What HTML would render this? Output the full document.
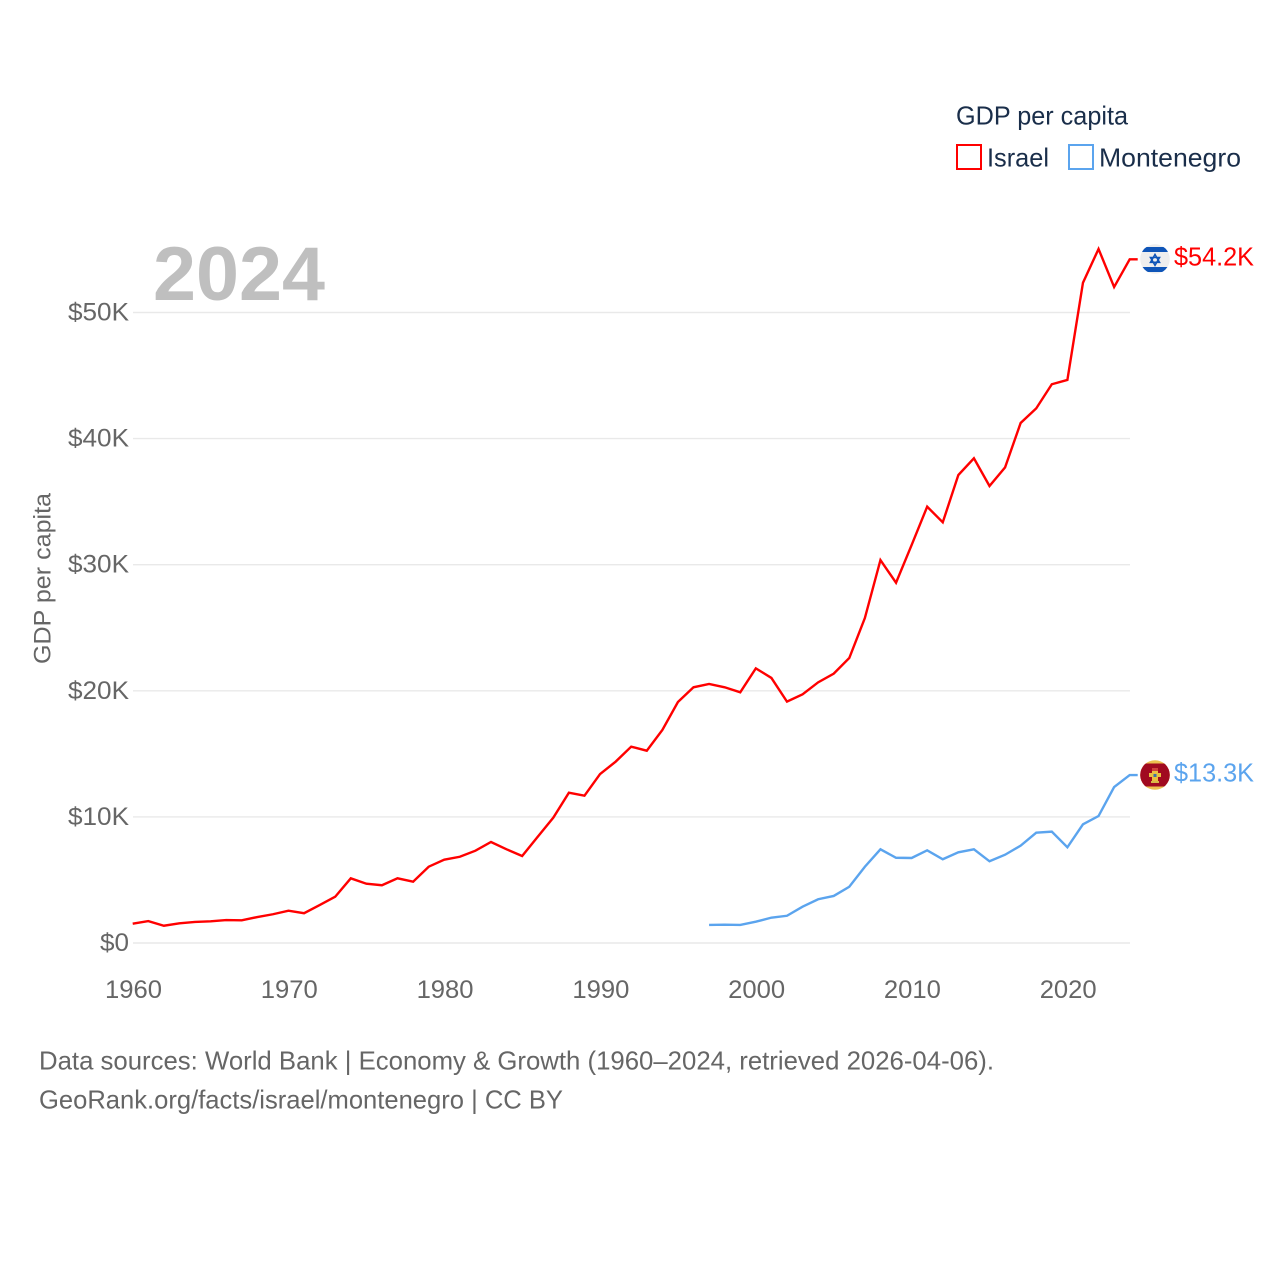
<!DOCTYPE html>
<html lang="en">
<head>
<meta charset="utf-8">
<title>GDP per capita: Israel and Montenegro</title>
<style>
  html, body { margin: 0; padding: 0; background: #ffffff; }
  svg { display: block; }
  text { font-family: "Liberation Sans", sans-serif; }
</style>
</head>
<body>
<svg id="chart" xmlns="http://www.w3.org/2000/svg" width="1280" height="1280" viewBox="0 0 1280 1280">
  <defs>
    <clipPath id="clip-il"><circle cx="1155" cy="259" r="14.8"></circle></clipPath>
    <clipPath id="clip-me"><circle cx="1155" cy="775" r="14.8"></circle></clipPath>
  </defs>
  <rect width="1280" height="1280" fill="#ffffff"></rect>

  <g id="grid"></g>
  <g id="y-ticks"></g>
  <g id="x-ticks"></g>

  <text x="153" y="300" font-size="76" font-weight="700" fill="#bfbfbf" textLength="172" lengthAdjust="spacingAndGlyphs">2024</text>

  <text transform="translate(50.5,578.5) rotate(-90)" text-anchor="middle" font-size="24" fill="#666666" textLength="171" lengthAdjust="spacingAndGlyphs">GDP per capita</text>

  <g id="series"></g>

  <g>
    <text x="956" y="124.5" font-size="26" fill="#1a2e4a" textLength="172" lengthAdjust="spacingAndGlyphs">GDP per capita</text>
    <g>
      <rect x="957" y="145" width="24" height="24" fill="none" stroke="#ff0000" stroke-width="2"></rect>
      <text x="987" y="166.5" font-size="26" fill="#1a2e4a" textLength="62" lengthAdjust="spacingAndGlyphs">Israel</text>
    </g>
    <g>
      <rect x="1069" y="145" width="24" height="24" fill="none" stroke="#5ba4ee" stroke-width="2"></rect>
      <text x="1099" y="166.5" font-size="26" fill="#1a2e4a" textLength="142" lengthAdjust="spacingAndGlyphs">Montenegro</text>
    </g>
  </g>

  <g clip-path="url(#clip-il)">
    <rect x="1140" y="244" width="30" height="30" fill="#eeeeee"></rect>
    <rect x="1140" y="247" width="30" height="5" fill="#0f55b8"></rect>
    <rect x="1140" y="267" width="30" height="5" fill="#0f55b8"></rect>
    <polygon points="1155,254.5 1159.5,262.3 1150.5,262.3" fill="none" stroke="#0f55b8" stroke-width="1.6"></polygon>
    <polygon points="1155,265.3 1159.5,257.5 1150.5,257.5" fill="none" stroke="#0f55b8" stroke-width="1.6"></polygon>
  </g>

  <g clip-path="url(#clip-me)">
    <rect x="1140" y="760" width="30" height="30" fill="#ecc050"></rect>
    <rect x="1140" y="763.5" width="30" height="23" fill="#a00a20"></rect>
    <rect x="1152" y="768" width="6" height="3" fill="#d0403a"></rect>
    <rect x="1149" y="773" width="12" height="4" fill="#e8c040"></rect>
    <rect x="1152" y="771" width="6" height="10" fill="#e8c040"></rect>
    <rect x="1153.5" y="774" width="3" height="3" fill="#3c6fa8"></rect>
    <rect x="1151" y="781" width="8" height="2" fill="#d8b848"></rect>
  </g>

  <text x="1174" y="265.5" font-size="26" fill="#ff0000" textLength="80" lengthAdjust="spacingAndGlyphs">$54.2K</text>
  <text x="1174" y="781.5" font-size="26" fill="#5ba4ee" textLength="80" lengthAdjust="spacingAndGlyphs">$13.3K</text>

  <text x="39" y="1069.5" font-size="26" fill="#666666" textLength="955" lengthAdjust="spacingAndGlyphs">Data sources: World Bank | Economy &amp; Growth (1960–2024, retrieved 2026-04-06).</text>
  <text x="39" y="1108.5" font-size="26" fill="#666666" textLength="524" lengthAdjust="spacingAndGlyphs">GeoRank.org/facts/israel/montenegro | CC BY</text>
</svg>

<script>
const israelStartYear = 1960;
const israelValues = [
  1.53, 1.74, 1.37, 1.56, 1.67, 1.72, 1.82, 1.80, 2.06, 2.28,
  2.56, 2.36, 3.01, 3.67, 5.13, 4.70, 4.58, 5.13, 4.86, 6.05,
  6.61, 6.84, 7.32, 8.01, 7.43, 6.90, 8.43, 9.94, 11.92, 11.68,
  13.40, 14.38, 15.57, 15.25, 16.89, 19.11, 20.28, 20.54, 20.28, 19.88,
  21.78, 21.02, 19.14, 19.72, 20.67, 21.36, 22.60, 25.77, 30.37, 28.57,
  31.56, 34.60, 33.36, 37.11, 38.44, 36.24, 37.72, 41.24, 42.40, 44.31,
  44.65, 52.36, 55.04, 52.02, 54.22
];
const montenegroStartYear = 1997;
const montenegroValues = [
  1.43, 1.45, 1.43, 1.69, 2.01, 2.16, 2.88, 3.47, 3.73, 4.46,
  6.05, 7.43, 6.76, 6.74, 7.35, 6.64, 7.19, 7.43, 6.48, 7.00,
  7.72, 8.75, 8.83, 7.59, 9.41, 10.07, 12.37, 13.32
];
const yTickValues = [0, 10, 20, 30, 40, 50];
const yTickLabels = ['$0', '$10K', '$20K', '$30K', '$40K', '$50K'];
const xTickValues = [1960, 1970, 1980, 1990, 2000, 2010, 2020];
const xTickLabels = ['1960', '1970', '1980', '1990', '2000', '2010', '2020'];

const NS = 'http://www.w3.org/2000/svg';
function xScale(year) { return 132.7 + (year - 1960) * (997 / 64); }
function yScale(value) { return 943 - value * 12.61; }

const gridGroup = document.getElementById('grid');
const yGroup = document.getElementById('y-ticks');
const xGroup = document.getElementById('x-ticks');
const seriesGroup = document.getElementById('series');

yTickValues.forEach(function (v, i) {
  const y = yScale(v);
  const line = document.createElementNS(NS, 'line');
  line.setAttribute('x1', 133);
  line.setAttribute('x2', 1130);
  line.setAttribute('y1', y);
  line.setAttribute('y2', y);
  line.setAttribute('stroke', '#e9e9e9');
  line.setAttribute('stroke-width', '1.4');
  
  
  gridGroup.appendChild(line);

  const label = document.createElementNS(NS, 'text');
  label.textContent = yTickLabels[i];
  label.setAttribute('x', 129);
  label.setAttribute('y', y + 8);
  label.setAttribute('text-anchor', 'end');
  label.setAttribute('font-size', '25');
  label.setAttribute('fill', '#666666');
  label.setAttribute('textLength', yTickLabels[i].length > 2 ? 61 : 29);
  label.setAttribute('lengthAdjust', 'spacingAndGlyphs');
  
  
  yGroup.appendChild(label);
});

xTickValues.forEach(function (v, i) {
  const label = document.createElementNS(NS, 'text');
  label.textContent = xTickLabels[i];
  label.setAttribute('x', xScale(v) + 0.8);
  label.setAttribute('y', 998);
  label.setAttribute('text-anchor', 'middle');
  label.setAttribute('font-size', '25');
  label.setAttribute('fill', '#666666');
  label.setAttribute('textLength', '57');
  label.setAttribute('lengthAdjust', 'spacingAndGlyphs');
  
  
  xGroup.appendChild(label);
});

function buildPoints(startYear, values) {
  const pts = values.map(function (v, i) {
    return xScale(startYear + i).toFixed(2) + ',' + yScale(v).toFixed(2);
  });
  const lastY = yScale(values[values.length - 1]).toFixed(2);
  pts.push((xScale(startYear + values.length - 1) + 8).toFixed(2) + ',' + lastY);
  return pts.join(' ');
}

const israelLine = document.createElementNS(NS, 'polyline');
israelLine.setAttribute('points', buildPoints(israelStartYear, israelValues));
israelLine.setAttribute('fill', 'none');
israelLine.setAttribute('stroke', '#ff0000');
israelLine.setAttribute('stroke-width', '2.4');
israelLine.setAttribute('stroke-linejoin', 'miter');


seriesGroup.appendChild(israelLine);

const montenegroLine = document.createElementNS(NS, 'polyline');
montenegroLine.setAttribute('points', buildPoints(montenegroStartYear, montenegroValues));
montenegroLine.setAttribute('fill', 'none');
montenegroLine.setAttribute('stroke', '#5ba4ee');
montenegroLine.setAttribute('stroke-width', '2.4');
montenegroLine.setAttribute('stroke-linejoin', 'miter');


seriesGroup.appendChild(montenegroLine);
</script>
</body>
</html>
